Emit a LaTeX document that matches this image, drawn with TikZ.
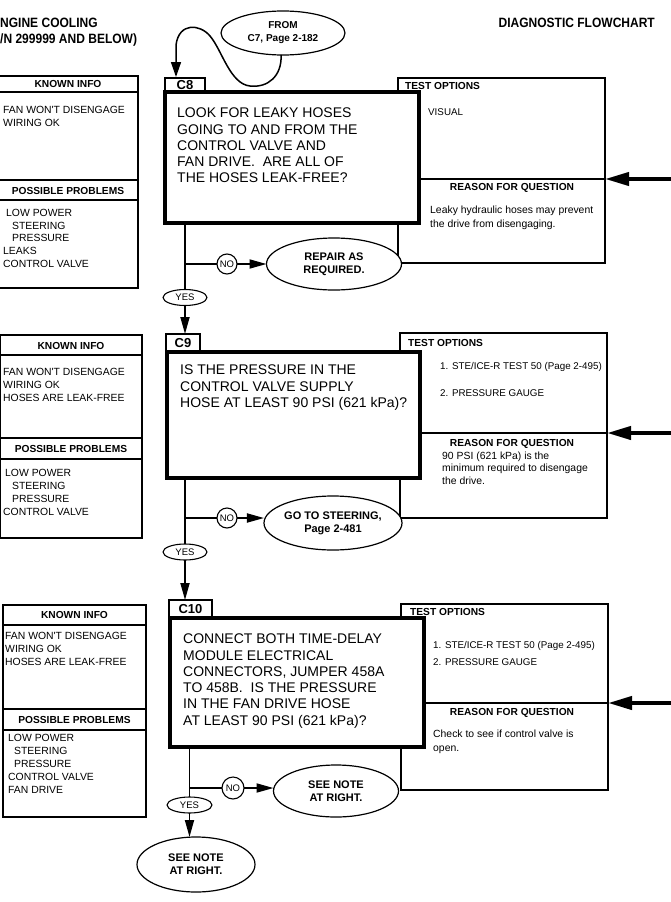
\documentclass[tikz,border=0pt]{standalone}
\usepackage{fontspec}
\setmainfont{Liberation Sans}
\newfontfamily\titlefam[FakeStretch=0.89]{Liberation Sans}
\usetikzlibrary{arrows.meta,calc,shapes.geometric}
\newcommand\fQ{\fontsize{14}{16.25}\selectfont}
\newcommand\fP{\fontsize{10.4}{13}\selectfont}
\newcommand\fPH{\fontsize{10.2}{12}\selectfont\bfseries}
\newcommand\fTI{\fontsize{9.8}{12}\selectfont}
\newcommand\fR{\fontsize{10.4}{14}\selectfont}
\newcommand\fE{\fontsize{11}{13}\selectfont\bfseries}
\newcommand\fY{\fontsize{9.5}{10}\selectfont}
\newcommand\fTab{\fontsize{13}{13}\selectfont\bfseries}
\newcommand\fTitle{\titlefam\fontsize{13.5}{16}\selectfont\bfseries}
\begin{document}
\begin{tikzpicture}[x=1pt,y=-1pt,
 pline/.style={line width=1.1pt},
 panel/.style={draw, line width=1.1pt, inner sep=0, outer sep=0, anchor=north west},
 testbox/.style={draw, line width=1.2pt, fill=white, inner sep=0, outer sep=0, anchor=north west},
 tabbox/.style={draw, line width=1.3pt, fill=white, inner sep=0, outer sep=0, anchor=north west, font=\fTab},
 mainbox/.style={draw, line width=4pt, fill=white, inner sep=0, outer sep=0, anchor=north west},
 qtext/.style={inner sep=0, anchor=north west, align=left, font=\fQ},
 ptext/.style={inner sep=0, anchor=north west, align=left, font=\fP},
 phead/.style={inner sep=0, anchor=center, font=\fPH},
 thead/.style={inner sep=0, anchor=west, font=\fPH},
 titem/.style={inner sep=0, anchor=west, font=\fTI},
 rtext/.style={inner sep=0, anchor=north west, align=left, font=\fR},
 endell/.style={draw, ellipse, fill=white, line width=1.2pt, inner sep=0, outer sep=0, align=center, font=\fE},
 yesell/.style={draw, ellipse, fill=white, line width=1.1pt, inner sep=0, outer sep=0, minimum width=44pt, minimum height=16pt, font=\fY},
 nocirc/.style={draw, circle, fill=white, line width=1.1pt, inner sep=0, outer sep=0, minimum size=20pt, font=\fY},
 flow/.style={line width=1.8pt, -{Triangle[length=17pt,width=9pt]}},
 plain/.style={line width=1.8pt},
 bigarrow/.style={line width=4pt, -{Triangle[length=24pt,width=13pt]}},
 divline/.style={line width=2pt},
 curvearrow/.style={line width=1.5pt, -{Triangle[length=15pt,width=10pt]}},
 divtitle/.style={inner sep=0, font=\fTitle}
]
\useasboundingbox (0,0) rectangle (670,902);

% titles
\node[divtitle, anchor=west] (t1) at (0,23) {NGINE COOLING};
\node[divtitle, anchor=west] (t2) at (0,40) {/N 299999 AND BELOW)};
\node[divtitle, anchor=east] (t3) at (655,23) {DIAGNOSTIC FLOWCHART};

% panels
\node[panel, minimum width=141pt, minimum height=212pt] (p1) at (-3,76) {};
\draw[pline] (-3,92) -- (138,92);
\draw[pline] (-3,180) -- (138,180);
\draw[pline] (-3,200) -- (138,200);
\node[phead] (p1k) at (68,84) {KNOWN INFO};
\node[phead] (p1p) at (68,190.5) {POSSIBLE PROBLEMS};
\node[ptext] (p1kt) at (3,106.3) {FAN WON\textquotesingle T DISENGAGE\\WIRING OK};
\node[ptext, font=\fontsize{10.4}{12.6}\selectfont] (p1pt) at (3,209.3) {\hspace*{3pt}LOW POWER\\\hspace*{9pt}STEERING\\\hspace*{9pt}PRESSURE\\LEAKS\\CONTROL VALVE};

\node[panel, minimum width=142pt, minimum height=203pt] (p2) at (0,335) {};
\draw[pline] (0,355) -- (142,355);
\draw[pline] (0,438) -- (142,438);
\draw[pline] (0,459) -- (142,459);
\node[phead] (p2k) at (71,346) {KNOWN INFO};
\node[phead] (p2p) at (71,448.5) {POSSIBLE PROBLEMS};
\node[ptext] (p2kt) at (3,368.3) {FAN WON\textquotesingle T DISENGAGE\\WIRING OK\\HOSES ARE LEAK-FREE};
\node[ptext] (p2pt) at (3,469.3) {\hspace*{2pt}LOW POWER\\\hspace*{9pt}STEERING\\\hspace*{9pt}PRESSURE\\CONTROL VALVE};

\node[panel, minimum width=143pt, minimum height=212pt] (p3) at (3,605) {};
\draw[pline] (3,625) -- (146,625);
\draw[pline] (3,709) -- (146,709);
\draw[pline] (3,730) -- (146,730);
\node[phead] (p3k) at (74.5,615) {KNOWN INFO};
\node[phead] (p3p) at (74.5,719.5) {POSSIBLE PROBLEMS};
\node[ptext] (p3kt) at (5,632.3) {FAN WON\textquotesingle T DISENGAGE\\WIRING OK\\HOSES ARE LEAK-FREE};
\node[ptext] (p3pt) at (5,734.3) {\hspace*{3pt}LOW POWER\\\hspace*{9pt}STEERING\\\hspace*{9pt}PRESSURE\\\hspace*{3pt}CONTROL VALVE\\\hspace*{3pt}FAN DRIVE};

% test option / reason boxes
\node[testbox, minimum width=207pt, minimum height=185pt] (t8) at (398,78) {};
\draw[divline] (398,179) -- (605,179);
\node[testbox, minimum width=207pt, minimum height=185pt] (t9) at (400,333) {};
\draw[divline] (400,433) -- (607,433);
\node[testbox, minimum width=207pt, minimum height=186pt] (t10) at (401,604) {};
\draw[divline] (401,703) -- (608,703);

% tabs
\node[tabbox, minimum width=40pt, minimum height=14pt] (tab8) at (165,78) {C8};
\node[tabbox, minimum width=34pt, minimum height=18pt] (tab9) at (166,334) {C9};
\node[tabbox, minimum width=43pt, minimum height=18pt] (tab10) at (169,600) {C10};

% main question boxes
\node[mainbox, minimum width=254pt, minimum height=131pt] (c8) at (165,92) {};
\node[mainbox, minimum width=253pt, minimum height=126pt] (c9) at (167,352) {};
\node[mainbox, minimum width=254pt, minimum height=129pt] (c10) at (170,618) {};

\node[qtext] (q8) at (177,108) {LOOK FOR LEAKY HOSES\\GOING TO AND FROM THE\\CONTROL VALVE AND\\FAN DRIVE.\ \ ARE ALL OF\\THE HOSES LEAK-FREE?};
\node[qtext] (q9) at (180,365) {IS THE PRESSURE IN THE\\CONTROL VALVE SUPPLY\\HOSE AT LEAST 90 PSI (621 kPa)?};
\node[qtext] (q10) at (183,634) {CONNECT BOTH TIME-DELAY\\MODULE ELECTRICAL\\CONNECTORS, JUMPER 458A\\TO 458B.\ \ IS THE PRESSURE\\IN THE FAN DRIVE HOSE\\AT LEAST 90 PSI (621 kPa)?};

% test option texts
\node[thead] (to8) at (405,86) {TEST OPTIONS};
\node[titem] (v8) at (428,112) {VISUAL};
\node[phead] (rq8) at (512,188) {REASON FOR QUESTION};
\node[rtext] (r8t) at (430,205.3) {Leaky hydraulic hoses may prevent\\the drive from disengaging.};

\node[thead] (to9) at (408,343) {TEST OPTIONS};
\node[titem] (o9a) at (440,367) {1. STE/ICE-R TEST 50 (Page 2-495)};
\node[titem] (o9b) at (440,393) {2. PRESSURE GAUGE};
\node[phead] (rq9) at (512,444) {REASON FOR QUESTION};
\node[rtext, font=\fontsize{10.4}{12.5}\selectfont] (r9t) at (442,451.3) {90 PSI (621 kPa) is the\\minimum required to disengage\\the drive.};

\node[thead] (to10) at (410,611.5) {TEST OPTIONS};
\node[titem] (o10a) at (433,646) {1. STE/ICE-R TEST 50 (Page 2-495)};
\node[titem] (o10b) at (433,662) {2. PRESSURE GAUGE};
\node[phead] (rq10) at (512,713) {REASON FOR QUESTION};
\node[rtext] (r10t) at (433,729.3) {Check to see if control valve is\\open.};

% terminal ellipses
\node[endell, minimum width=124pt, minimum height=44pt, font=\fontsize{10}{13}\selectfont\bfseries] (from) at (283,33) {FROM\\C7, Page 2-182};
\node[endell, minimum width=135pt, minimum height=52pt] (rep8) at (334,264) {REPAIR AS\\REQUIRED.};
\node[endell, minimum width=132pt, minimum height=54pt] (go9) at (333,523) {GO TO STEERING,\\Page 2-481};
\node[endell, minimum width=125pt, minimum height=52pt] (see10) at (336,791) {SEE NOTE\\AT RIGHT.};
\node[endell, minimum width=118pt, minimum height=55pt] (see10b) at (196,864.5) {SEE NOTE\\AT RIGHT.};

% yes / no
\node[yesell] (yes8) at (185,297.5) {YES};
\node[nocirc] (no8) at (227,264) {NO};
\node[yesell] (yes9) at (185,552) {YES};
\node[nocirc] (no9) at (227,518) {NO};
\node[yesell, minimum width=45pt] (yes10) at (189.5,805) {YES};
\node[nocirc, minimum size=22pt] (no10) at (233,788) {NO};

% entry curve
\coordinate (c8in) at (176,77);
\draw[curvearrow] (from.265) .. controls (282,76) and (268,88) .. (250,86) .. controls (230,84) and (222,50) .. (210,36) .. controls (200,24) and (179,22) .. (176,45) -- (c8in);

% flow C8
\coordinate (j8) at (185,264);
\draw[plain] (c8.south -| yes8.north) -- (yes8.north);
\draw[plain] (j8) -- (no8.west);
\draw[flow] (no8.east) -- (rep8.west);
\draw[flow] (yes8.south) -- (yes8.south |- tab9.north);

% flow C9
\coordinate (j9) at (185,518);
\draw[plain] (c9.south -| yes9.north) -- (yes9.north);
\draw[plain] (j9) -- (no9.west);
\draw[flow] (no9.east) -- (no9.east -| go9.west);
\draw[flow] (yes9.south) -- (yes9.south |- tab10.north);

% flow C10
\coordinate (j10) at (189.5,788);
\draw[plain] (c10.south -| yes10.north) -- (yes10.north);
\draw[plain] (j10) -- (no10.west);
\draw[flow] (no10.east) -- (no10.east -| see10.west);
\draw[flow] (yes10.south) -- (yes10.south |- see10b.north);

% arrows from the right margin
\coordinate (in8) at (675,179);
\coordinate (in9) at (675,433);
\coordinate (in10) at (675,703);
\draw[bigarrow] (in8) -- (in8 -| t8.east);
\draw[bigarrow] (in9) -- (in9 -| t9.east);
\draw[bigarrow] (in10) -- (in10 -| t10.east);
\end{tikzpicture}
\end{document}
